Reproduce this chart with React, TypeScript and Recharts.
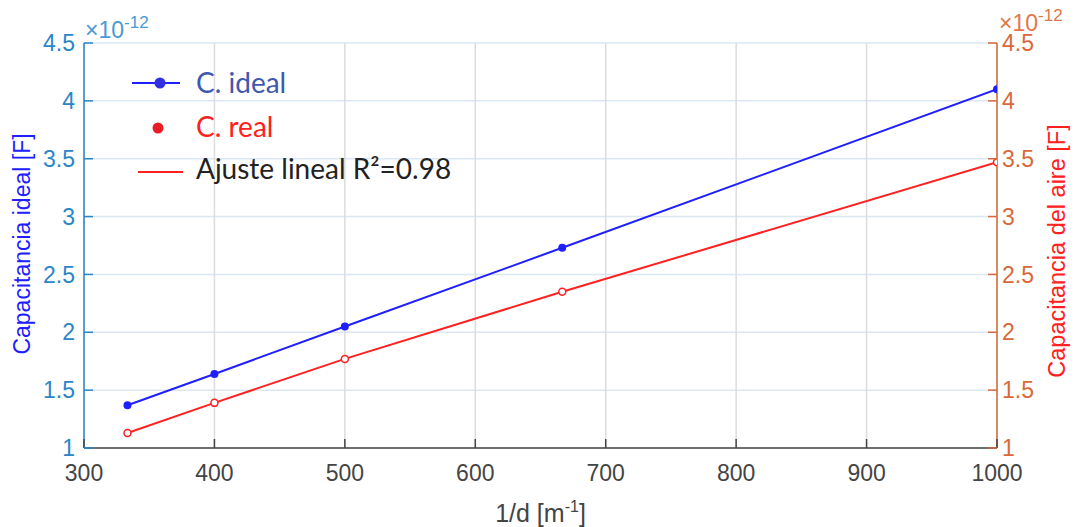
import { ComposedChart, Line, XAxis, YAxis, CartesianGrid, Legend } from "recharts";

// 1/d in m^-1 (d = 3, 2.5, 2, 1.5, 1 mm)
const INV_D = [333.33, 400, 500, 666.67, 1000];
// capacitances in units of 1e-12 F
const C_IDEAL = [1.37, 1.64, 2.05, 2.73, 4.1];
const C_REAL = [1.13, 1.39, 1.77, 2.35, 3.47];
const C_FIT = [1.13, 1.39, 1.77, 2.35, 3.47];

const X_TICKS = [300, 400, 500, 600, 700, 800, 900, 1000];
const Y_TICKS = [1, 1.5, 2, 2.5, 3, 3.5, 4, 4.5];

const data = INV_D.map((x, i) => ({
  x,
  ideal: C_IDEAL[i],
  real: C_REAL[i],
  fit: C_FIT[i],
}));

const LEFT_COLOR = "#2a86c8";
const RIGHT_COLOR = "#d9693a";
const AXIS_GRAY = "#444444";
const BLUE = "#1f1fff";
const RED = "#ff2020";
const TICK_FONT = "'Liberation Sans', Arial, sans-serif";
const TICK_SIZE = 23;
const TICK_LEN = 9;
const X_TICK_GAP = 17;

const LeftTick = ({ x, y, payload }: any) => {
  const axisX = x + 9;
  return (
    <g>
      <line x1={axisX} x2={axisX + TICK_LEN} y1={y} y2={y} stroke={LEFT_COLOR} strokeWidth={1.5} />
      <text x={x} y={y} dy="0.355em" textAnchor="end" fontSize={TICK_SIZE} fontFamily={TICK_FONT} fill={LEFT_COLOR}>
        {payload.value}
      </text>
    </g>
  );
};

const RightTick = ({ x, y, payload }: any) => {
  const axisX = x - 5;
  return (
    <g>
      <line x1={axisX - TICK_LEN} x2={axisX} y1={y} y2={y} stroke={RIGHT_COLOR} strokeWidth={1.5} />
      <text x={x} y={y} dy="0.355em" textAnchor="start" fontSize={TICK_SIZE} fontFamily={TICK_FONT} fill={RIGHT_COLOR}>
        {payload.value}
      </text>
    </g>
  );
};

const BottomTick = ({ x, y, payload }: any) => {
  const axisY = y - X_TICK_GAP;
  return (
    <g>
      <line x1={x} x2={x} y1={axisY - TICK_LEN} y2={axisY} stroke={AXIS_GRAY} strokeWidth={1.5} />
      <text x={x} y={y} dy="0.71em" textAnchor="middle" fontSize={TICK_SIZE} fontFamily={TICK_FONT} fill={AXIS_GRAY}>
        {payload.value}
      </text>
    </g>
  );
};

// axis titles plus the x10^-12 exponent markers
const LeftLabel = ({ viewBox }: any) => {
  const { x, y, width } = viewBox;
  return (
    <g fontFamily={TICK_FONT}>
      <text
        transform={`translate(${x + 22}, ${244}) rotate(-90)`}
        textAnchor="middle"
        dominantBaseline="central"
        fontSize={23}
        fill="#2020ff"
      >
        Capacitancia ideal [F]
      </text>
      <text x={x + width + 1} y={y - 5} fontSize={23} fill="#4a9ad6">
        ×10<tspan dy={-10} fontSize={17}>-12</tspan>
      </text>
    </g>
  );
};

const RightLabel = ({ viewBox }: any) => {
  const { x, y } = viewBox;
  return (
    <g fontFamily={TICK_FONT}>
      <text
        transform={`translate(${x + 60}, ${251}) rotate(-90)`}
        textAnchor="middle"
        dominantBaseline="central"
        fontSize={23.5}
        fill={RED}
      >
        Capacitancia del aire [F]
      </text>
      <text x={x + 2} y={y - 12} fontSize={23} fill="#e0784a">
        ×10<tspan dy={-10} fontSize={17}>-12</tspan>
      </text>
    </g>
  );
};

const BottomLabel = ({ viewBox }: any) => {
  const { x, y, width } = viewBox;
  return (
    <text x={x + width / 2} y={y + 74} textAnchor="middle" fontSize={25} fontFamily={TICK_FONT} fill={AXIS_GRAY}>
      1/d [m<tspan dy={-10} fontSize={16}>-1</tspan>
      <tspan dy={10}>]</tspan>
    </text>
  );
};

const LegendBox = () => (
  <svg width={400} height={130} style={{ fontFamily: "Lato, 'Open Sans', sans-serif" }}>
    <line x1={4} x2={52} y1={25} y2={25} stroke={BLUE} strokeWidth={2} />
    <circle cx={32} cy={25} r={5.5} fill="#3030e0" />
    <text x={68} y={35} fontSize={28} fill="#4058b0">C. ideal</text>
    <circle cx={30} cy={70} r={5.5} fill="#e81c24" />
    <text x={68} y={79} fontSize={28} fill={RED}>C. real</text>
    <line x1={10} x2={55} y1={114} y2={114} stroke={RED} strokeWidth={2} />
    <text x={68} y={121} fontSize={28} fill="#222">Ajuste lineal R²=0.98</text>
  </svg>
);

export default function App() {
  return (
    <div style={{ position: "absolute", left: 0, top: 0, width: 1076, height: 527, background: "#fff" }}>
      <ComposedChart width={1076} height={527} data={data} margin={{ top: 43, right: 0, bottom: 0, left: 0 }}>
        <CartesianGrid yAxisId="left" vertical={false} stroke="#dbe8f3" strokeWidth={1.5} />
        <CartesianGrid yAxisId="left" horizontal={false} stroke="#dcdcdc" strokeWidth={1.5} />
        <XAxis
          dataKey="x"
          type="number"
          domain={[300, 1000]}
          ticks={X_TICKS}
          allowDataOverflow
          height={79}
          tickSize={0}
          tickMargin={X_TICK_GAP}
          tick={<BottomTick />}
          axisLine={{ stroke: AXIS_GRAY, strokeWidth: 1.5 }}
          label={<BottomLabel />}
        />
        <YAxis
          yAxisId="left"
          type="number"
          domain={[1, 4.5]}
          ticks={Y_TICKS}
          width={84}
          tickSize={0}
          tickMargin={9}
          tick={<LeftTick />}
          axisLine={{ stroke: LEFT_COLOR, strokeWidth: 1.5 }}
          label={<LeftLabel />}
        />
        <YAxis
          yAxisId="right"
          orientation="right"
          type="number"
          domain={[1, 4.5]}
          ticks={Y_TICKS}
          width={79}
          tickSize={0}
          tickMargin={5}
          tick={<RightTick />}
          axisLine={{ stroke: RIGHT_COLOR, strokeWidth: 1.5 }}
          label={<RightLabel />}
        />
        <Legend
          layout="horizontal"
          align="center"
          verticalAlign="middle"
          content={<LegendBox />}
          wrapperStyle={{ left: 128, top: 58, width: 400, height: 130 }}
        />
        <Line
          yAxisId="left"
          dataKey="ideal"
          stroke={BLUE}
          strokeWidth={2}
          dot={{ r: 3, fill: BLUE, stroke: BLUE }}
          isAnimationActive={false}
        />
        <Line
          yAxisId="right"
          dataKey="fit"
          stroke={RED}
          strokeWidth={2}
          dot={false}
          isAnimationActive={false}
        />
        <Line
          yAxisId="right"
          dataKey="real"
          stroke="none"
          dot={{ r: 3.5, fill: "#fff", stroke: RED, strokeWidth: 1.5 }}
          isAnimationActive={false}
        />
      </ComposedChart>
    </div>
  );
}
